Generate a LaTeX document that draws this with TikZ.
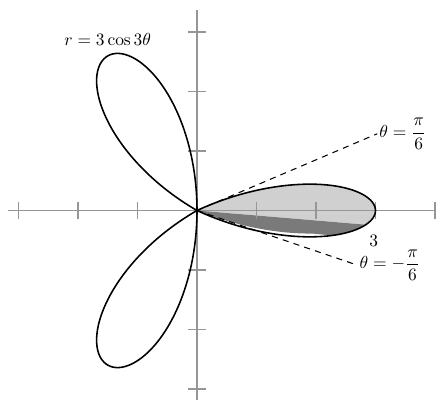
\documentclass[tikz,border=0pt]{standalone}
\usepackage{amsmath, amssymb}
\usepackage{tikz}
\usetikzlibrary{positioning}
\definecolor{axisgray}{RGB}{150, 150, 150}
\definecolor{petallight}{RGB}{208, 208, 208}
\definecolor{petaldark}{RGB}{122, 122, 122}

\begin{document}
\begin{tikzpicture}[x=1.2cm, y=1.2cm,
    axis/.style={axisgray, line width=1.1pt},
    petal/.style={line width=0.9pt, line join=round}]
    \useasboundingbox (-3.311,-3.269) rectangle (4.084,3.538);
    \coordinate (O) at (0,0);
    \fill[petallight] plot[domain=-30:30, samples=120, variable=\t] ({3*cos(3*\t)*cos(\t)}, {2.4*cos(3*\t)*sin(\t)}) -- cycle;
    \fill[white] (O) -- plot[domain=-30:-6, samples=80, variable=\t] ({3*cos(3*\t)*cos(\t)}, {2.4*cos(3*\t)*sin(\t)}) -- cycle;
    \fill[petaldark] (O) -- plot[domain=-6:-13, samples=30, variable=\t] ({3*cos(3*\t)*cos(\t)}, {2.4*cos(3*\t)*sin(\t)})
        -- plot[domain=-16:-30, samples=50, variable=\t] ({3*cos(3*\t)*cos(\t)}, {2.1*cos(3*\t)*sin(\t)}) -- cycle;
    \draw[axis] (-3.18,0) -- (4,0);
    \draw[axis] (0,-3.18) -- (0,3.37);
    \foreach \x in {-3,-2,-1,1,2,3,4}
        \draw[axis] (\x,-0.15) -- (\x,0.15);
    \foreach \y in {-3,-2,-1,1,2,3}
        \draw[axis] (-0.15,\y) -- (0.15,\y);
    \draw[petal] plot[domain=-30:30, samples=120, variable=\t] ({3*cos(3*\t)*cos(\t)}, {2.4*cos(3*\t)*sin(\t)});
    \draw[petal] plot[domain=90:150, samples=120, variable=\t] ({3*cos(3*\t)*cos(\t)}, {3*cos(3*\t)*sin(\t)});
    \draw[petal] plot[domain=210:270, samples=120, variable=\t] ({3*cos(3*\t)*cos(\t)}, {3*cos(3*\t)*sin(\t)});
    \node (eq) at (-1.50, 2.88) {$r = 3\cos 3\theta$};
    \node[anchor=west, inner sep=1pt] (ulab) at (3.03, 1.29) {$\theta = \dfrac{\pi}{6}$};
    \node[anchor=west, inner sep=1pt] (llab) at (2.70, -0.92) {$\theta = -\dfrac{\pi}{6}$};
    \node (three) at (2.97, -0.51) {$3$};
    \draw[dashed, dash pattern=on 3.5pt off 3pt, line width=0.6pt] (O) -- (ulab.west);
    \draw[dashed, dash pattern=on 3.5pt off 3pt, line width=0.6pt] (O) -- (llab.west);
\end{tikzpicture}
\end{document}
